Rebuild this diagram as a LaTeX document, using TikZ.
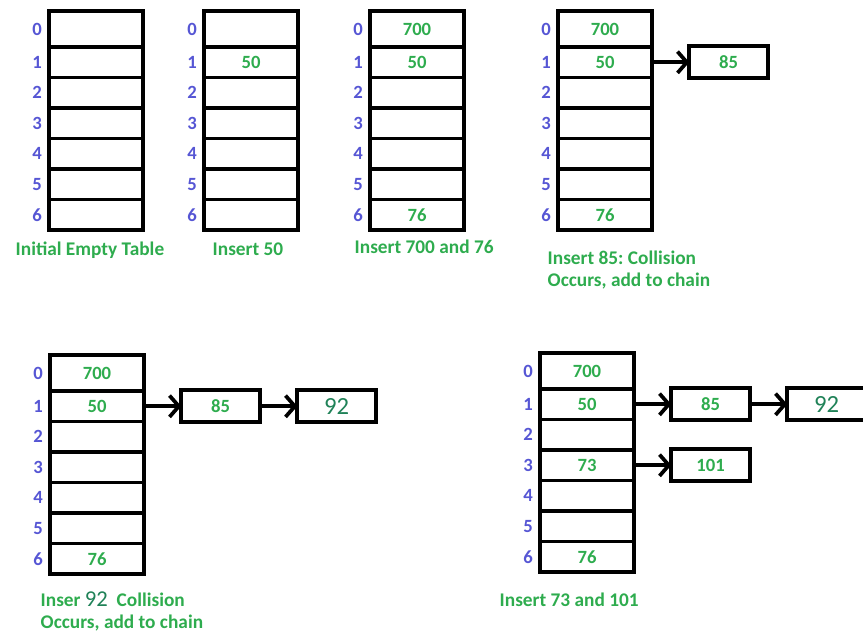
\documentclass[tikz,border=0pt]{standalone}
\usepackage{fontspec}
\setmainfont{Carlito}
\usetikzlibrary{arrows.meta,positioning}
\definecolor{valgreen}{RGB}{46,172,78}
\definecolor{idxblue}{RGB}{86,86,212}
\definecolor{biggreen}{RGB}{32,130,88}
\frenchspacing
\begin{document}
\begin{tikzpicture}[x=0.75pt,y=-0.75pt,
    cell/.style={draw,line width=2.8pt,outer sep=0pt,inner sep=0pt,minimum width=70.5pt,
      anchor=north west,text=valgreen,font=\bfseries\fontsize{14}{16}\selectfont},
    idx/.style={text=idxblue,font=\bfseries\fontsize{14}{16}\selectfont},
    chain/.style={draw,line width=2.8pt,outer sep=0pt,inner sep=0pt,minimum width=59pt,
      minimum height=24pt,text=valgreen,font=\bfseries\fontsize{14}{16}\selectfont},
    link/.style={line width=2.8pt,-{Straight Barb[length=7pt,width=16pt]}},
    caption/.style={text=valgreen,font=\bfseries\fontsize{14.5}{16.5}\selectfont,align=left},
    node distance=28pt]
  \useasboundingbox (0,0) rectangle (863,634);
  % the hash tables: number / left / top / values of rows 0..6
  \foreach \t/\x/\y/\vals in {1/49/11/{,,,,,,},
                              2/204/11/{,50,,,,,},
                              3/370/11/{700,50,,,,,76},
                              4/558/11/{700,50,,,,,76},
                              5/50/355/{700,50,,,,,76},
                              6/540/353/{700,50,,73,,,76}} {
    \foreach \v [count=\n from 0] in \vals {
      \pgfmathsetmacro\ry{ifthenelse(\n==0,\y,\y+36+(\n-1)*30.5)}
      \pgfmathsetmacro\rh{ifthenelse(\n==0,27,22.9)}
      \node[cell,minimum height=\rh pt] (t\t r\n) at (\x,\ry) {\v};
      \node[idx] (t\t i\n) at ([xshift=-9pt]t\t r\n.west) {\n};
    }
  }
  % chains
  \node[chain,right=of t4r1] (t4c85) {85};
  \draw[link] (t4r1) -- (t4c85);
  \node[chain,right=of t5r1] (t5c85) {85};
  \node[chain,right=of t5c85] (t5c92) {\mdseries\color{biggreen}\fontsize{18.5}{20}\selectfont 92};
  \draw[link] (t5r1) -- (t5c85);
  \draw[link] (t5c85) -- (t5c92);
  \node[chain,right=of t6r1] (t6c85) {85};
  \node[chain,right=of t6c85] (t6c92) {\mdseries\color{biggreen}\fontsize{18.5}{20}\selectfont 92};
  \node[chain,right=of t6r3] (t6c101) {101};
  \draw[link] (t6r1) -- (t6c85);
  \draw[link] (t6c85) -- (t6c92);
  \draw[link] (t6r3) -- (t6c101);
  % captions
  \node[caption,anchor=west] (cap1) at (11,250) {Initial Empty Table};
  \node[caption,anchor=west] (cap2) at (208,249) {Insert 50};
  \node[caption,anchor=west] (cap3) at (350,247) {Insert 700 and 76};
  \node[caption,anchor=north west] (cap4) at (543,246) {Insert 85: Collision\\Occurs, add to chain};
  \node[caption,anchor=north west] (cap5) at (36,587)
    {Inser {\mdseries\color{biggreen}\fontsize{17}{16.5}\selectfont 92}\ \ Collision\\Occurs, add to chain};
  \node[caption,anchor=west] (cap6) at (495,600) {Insert 73 and 101};
\end{tikzpicture}
\end{document}
